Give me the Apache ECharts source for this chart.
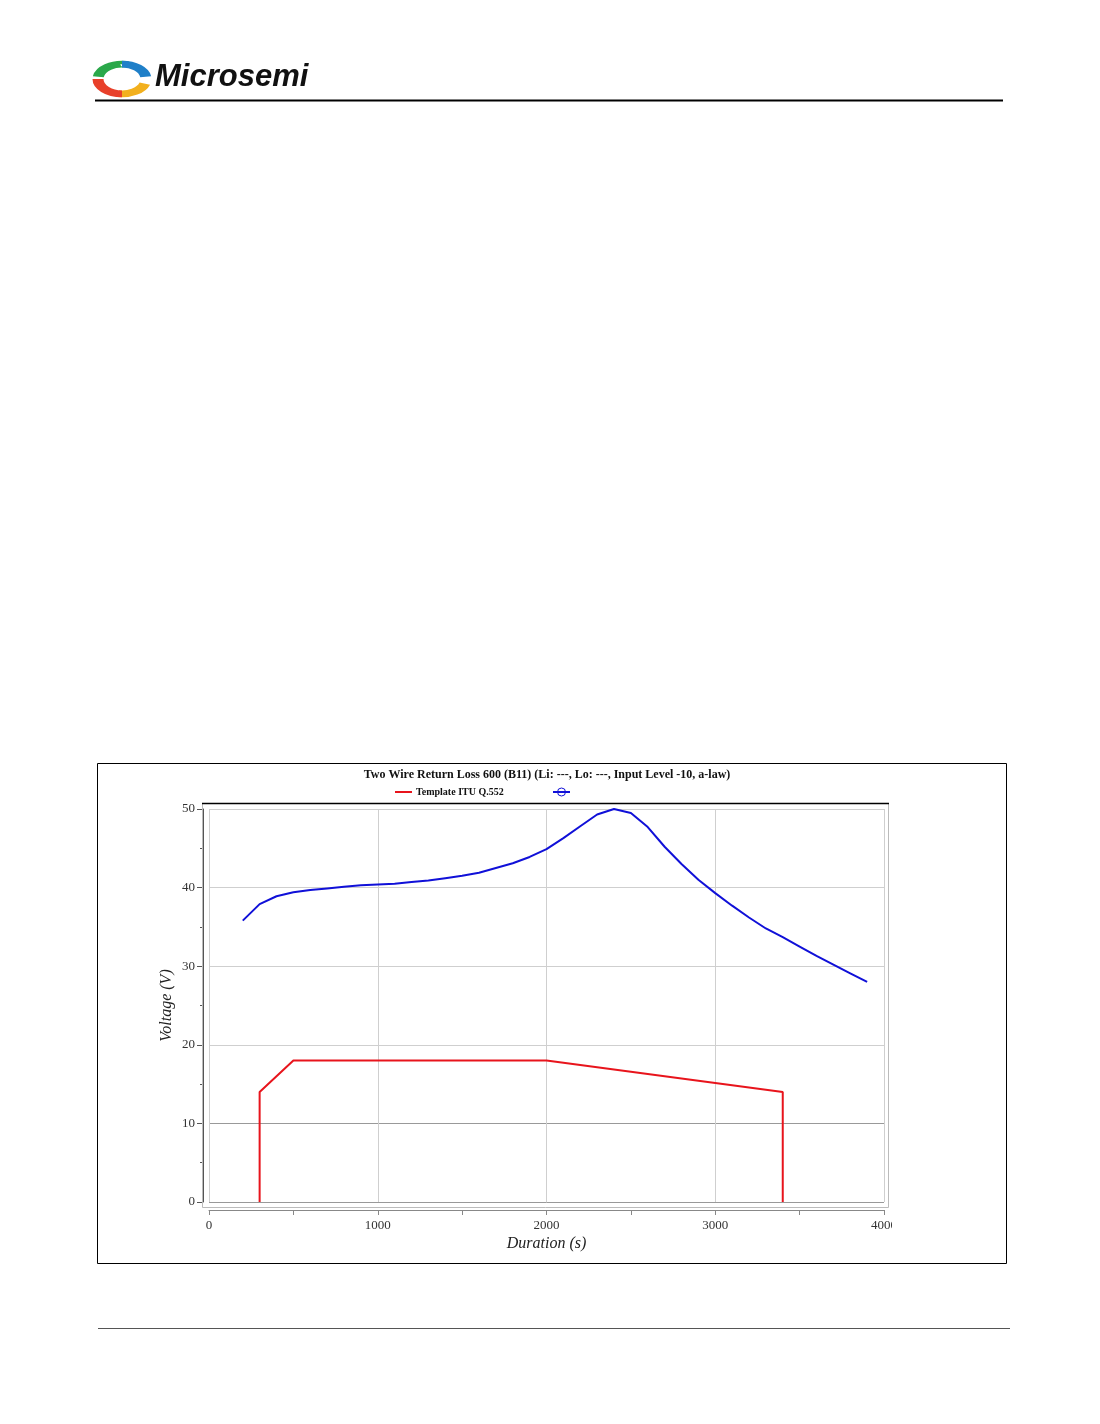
<!DOCTYPE html>
<html>
<head>
<meta charset="utf-8">
<script src="https://cdn.jsdelivr.net/npm/echarts@6/dist/echarts.min.js"></script>
<style>
html, body { margin: 0; padding: 0; background: #fff; }
#chart { width: 1100px; height: 1424px; }
</style>
</head>
<body>
<div id="chart"></div>
<script>
// measured curve (duration s, voltage V)
const durations = [200, 300, 400, 500, 600, 700, 800, 900, 1000, 1100, 1200, 1300, 1400, 1500,
    1600, 1700, 1800, 1900, 2000, 2100, 2200, 2300, 2400, 2500, 2600, 2700, 2800, 2900,
    3000, 3100, 3200, 3300, 3400, 3500, 3600, 3700, 3800, 3900];
const voltages = [35.8, 37.9, 38.9, 39.4, 39.7, 39.9, 40.1, 40.3, 40.4, 40.5, 40.7, 40.9, 41.2, 41.5,
    41.9, 42.5, 43.1, 43.9, 44.9, 46.3, 47.8, 49.3, 50.0, 49.5, 47.7, 45.2, 43.0, 41.0,
    39.3, 37.7, 36.2, 34.8, 33.7, 32.5, 31.3, 30.2, 29.1, 28.0];

// ITU Q.552 template
const templateX = [300, 300, 500, 2000, 3400, 3400];
const templateY = [0, 14, 18, 18, 14, 0];

const titleText = 'Two Wire Return Loss 600 (B11) (Li: ---, Lo: ---, Input Level -10, a-law)';
const templateName = 'Template ITU Q.552';

const serif = '"Liberation Serif", "DejaVu Serif", serif';

var myChart = echarts.init(document.getElementById('chart'));

var option = {
    backgroundColor: '#fff',
    animation: false,
    grid: { left: 209, right: 216, top: 809, bottom: 222, containLabel: false },
    xAxis: {
        type: 'value',
        min: 0,
        max: 4000,
        interval: 1000,
        offset: 8,
        name: 'Duration (s)',
        nameLocation: 'middle',
        nameGap: 26,
        nameTextStyle: { fontFamily: serif, fontStyle: 'italic', fontSize: 16, color: '#222' },
        axisLine: { show: true, onZero: false, lineStyle: { color: '#888', width: 1 } },
        axisTick: { show: true, length: 5, lineStyle: { color: '#888' } },
        minorTick: { show: true, splitNumber: 2, length: 5, lineStyle: { color: '#888' } },
        axisLabel: { fontFamily: serif, fontSize: 13, color: '#333', margin: 9, formatter: v => String(v) },
        splitLine: { show: true, lineStyle: { color: '#cfcfcf', width: 1 } }
    },
    yAxis: {
        type: 'value',
        min: 0,
        max: 50,
        interval: 10,
        offset: 6,
        name: 'Voltage (V)',
        nameLocation: 'middle',
        nameGap: 28,
        nameMoveOverlap: false,
        nameTextStyle: { fontFamily: serif, fontStyle: 'italic', fontSize: 16, color: '#222' },
        axisLine: { show: true, onZero: false, lineStyle: { color: '#555', width: 1 } },
        axisTick: { show: true, length: 6, lineStyle: { color: '#555' } },
        minorTick: { show: true, splitNumber: 2, length: 3, lineStyle: { color: '#555' } },
        axisLabel: { fontFamily: serif, fontSize: 13, color: '#333', margin: 8 },
        splitLine: { show: true, lineStyle: { color: ['#999', '#999', '#cfcfcf', '#cfcfcf', '#cfcfcf', '#cfcfcf'], width: 1 } }
    },
    series: [
        {
            name: templateName,
            type: 'line',
            data: templateX.map((x, i) => [x, templateY[i]]),
            showSymbol: false,
            lineStyle: { color: '#e8141c', width: 2 },
            z: 3
        },
        {
            name: 'measured',
            type: 'line',
            data: durations.map((x, i) => [x, voltages[i]]),
            showSymbol: false,
            lineStyle: { color: '#1010d8', width: 2 },
            z: 4
        }
    ],
    graphic: [
        // header logo
        { type: 'arc', shape: { cx: 122, cy: 79, r: 24, startAngle: Math.PI * 1.05, endAngle: Math.PI * 1.55 }, scaleY: 0.62, originY: 79, originX: 122, style: { stroke: '#2aa84a', lineWidth: 11, fill: null } },
        { type: 'arc', shape: { cx: 122, cy: 79, r: 24, startAngle: Math.PI * 1.5, endAngle: Math.PI * 1.95 }, scaleY: 0.62, originY: 79, originX: 122, style: { stroke: '#1f7fc8', lineWidth: 11, fill: null } },
        { type: 'arc', shape: { cx: 122, cy: 79, r: 24, startAngle: Math.PI * 0.1, endAngle: Math.PI * 0.55 }, scaleY: 0.62, originY: 79, originX: 122, style: { stroke: '#f2b01e', lineWidth: 11, fill: null } },
        { type: 'arc', shape: { cx: 122, cy: 79, r: 24, startAngle: Math.PI * 0.5, endAngle: Math.PI * 1.0 }, scaleY: 0.62, originY: 79, originX: 122, style: { stroke: '#e8402a', lineWidth: 11, fill: null } },
        { type: 'text', left: 155, top: 62, style: { text: 'Microsemi', font: 'italic bold 31px "Liberation Sans", Arial, sans-serif', fill: '#111' } },
        { type: 'line', shape: { x1: 95, y1: 100.5, x2: 1003, y2: 100.5 }, style: { stroke: '#000', lineWidth: 2 } },
        // footer rule
        { type: 'line', shape: { x1: 98, y1: 1328.5, x2: 1010, y2: 1328.5 }, style: { stroke: '#555', lineWidth: 1 } },
        // chart box
        { type: 'rect', shape: { x: 97.5, y: 763.5, width: 909, height: 500 }, style: { stroke: '#000', lineWidth: 1, fill: null }, z: 10 },
        // plot frame
        { type: 'rect', shape: { x: 202.5, y: 803.5, width: 686, height: 404 }, style: { stroke: '#bbb', lineWidth: 1, fill: null }, z: 1 },
        { type: 'line', shape: { x1: 202, y1: 803.5, x2: 889, y2: 803.5 }, style: { stroke: '#000', lineWidth: 1.5 }, z: 2 },
        // clip the last tick label like the original
        { type: 'rect', shape: { x: 892, y: 1214, width: 40, height: 22 }, style: { fill: '#fff' }, z: 9 },
        // title
        { type: 'text', x: 547, y: 769, style: { text: titleText, font: 'bold 12px ' + serif, fill: '#111', textAlign: 'center' } },
        // legend
        { type: 'line', shape: { x1: 395, y1: 792, x2: 412, y2: 792 }, style: { stroke: '#e8141c', lineWidth: 2 } },
        { type: 'text', x: 416, y: 787, style: { text: templateName, font: 'bold 10px ' + serif, fill: '#111' } },
        { type: 'line', shape: { x1: 553, y1: 792, x2: 570, y2: 792 }, style: { stroke: '#1010d8', lineWidth: 2 } },
        { type: 'circle', shape: { cx: 561.5, cy: 792, r: 4 }, style: { stroke: '#1010d8', lineWidth: 1, fill: 'rgba(255,255,255,0)' } }
    ]
};

myChart.setOption(option);
</script>
</body>
</html>
